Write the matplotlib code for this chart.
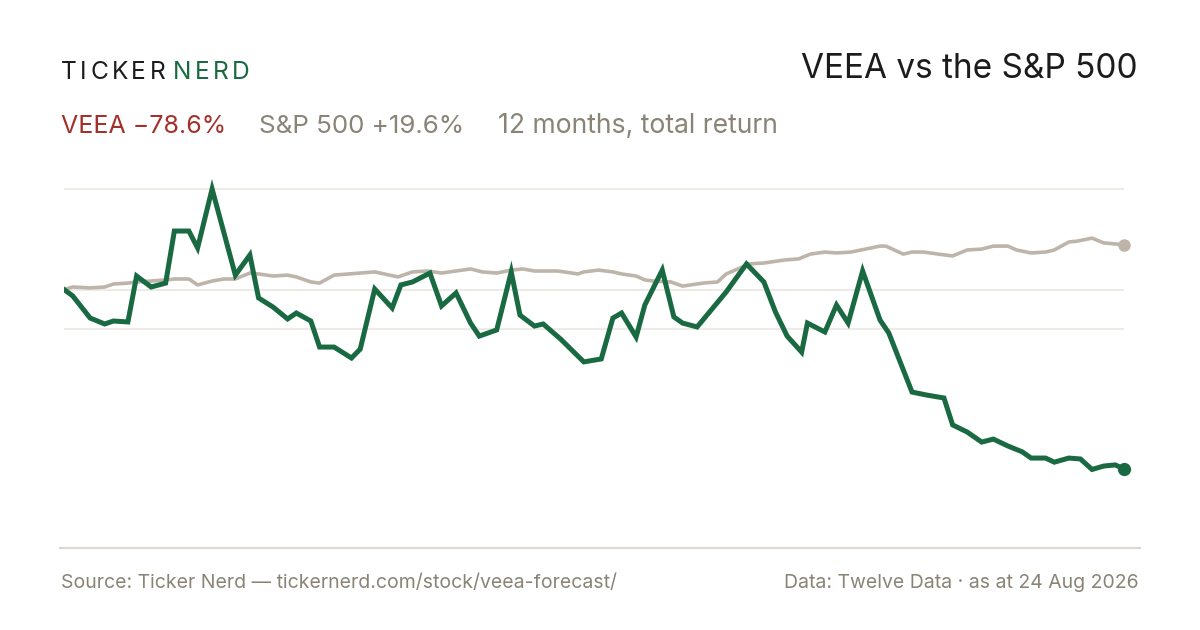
import matplotlib
matplotlib.use("Agg")
import matplotlib.pyplot as plt
import numpy as np

plt.rcParams['font.family'] = ['Inter', 'DejaVu Sans']

# VEEA, % total return, day offset within the 12 months
veea_days = [0, 3, 9, 14, 17, 22, 25, 30, 35, 38, 43, 46, 51, 59, 64, 67, 72, 77, 80,
             85, 88, 93, 99, 102, 107, 113, 116, 120, 126, 130, 135, 140, 143, 149,
             154, 157, 162, 165, 171, 179, 185, 189, 192, 197, 200, 206, 210, 213,
             218, 228, 235, 241, 245, 249, 254, 256, 262, 266, 270, 275, 281, 284,
             292, 297, 303, 306, 311, 316, 320, 325, 330, 333, 338, 341, 346, 350,
             354, 358, 362, 365]
veea_ret = [0.0, -2.8, -12.5, -15.1, -13.8, -14.2, 5.9, 1.1, 2.8, 25.6, 25.6, 18.2,
            44.0, 6.3, 15.1, -3.7, -7.7, -12.9, -10.3, -13.8, -25.2, -25.2, -30.0,
            -26.1, 0.2, -8.1, 2.0, 3.3, 7.2, -7.2, -1.5, -14.7, -20.4, -17.7, 7.7,
            -11.2, -16.0, -15.1, -21.7, -31.7, -30.4, -12.5, -10.3, -20.8, -6.8, 8.5,
            -12.0, -14.7, -16.4, -1.1, 11.2, 3.3, -9.9, -20.4, -27.4, -14.7, -18.6,
            -6.8, -14.7, 8.1, -13.4, -19.0, -44.9, -46.2, -47.5, -59.3, -62.4, -66.8,
            -65.5, -68.5, -71.1, -73.8, -73.8, -75.6, -73.8, -74.2, -78.8, -77.3,
            -76.8, -78.6]

# S&P 500, % total return
spx_days = [0, 3, 9, 14, 17, 22, 25, 30, 35, 38, 43, 46, 51, 55, 59, 64, 67, 72, 77,
            80, 85, 88, 93, 98, 102, 107, 115, 120, 125, 130, 135, 140, 144, 149, 154,
            158, 162, 170, 177, 179, 184, 189, 192, 197, 200, 203, 209, 213, 220, 225,
            228, 232, 236, 241, 248, 253, 257, 262, 266, 271, 276, 281, 283, 289, 292,
            296, 301, 306, 311, 316, 320, 325, 328, 333, 338, 341, 346, 349, 354, 358,
            365]
spx_ret = [0.0, 1.1, 0.7, 1.1, 2.4, 2.8, 3.3, 3.7, 4.2, 4.6, 4.6, 2.0, 3.7, 4.6, 4.6,
           7.2, 6.8, 5.9, 6.3, 5.5, 3.3, 2.8, 6.3, 6.8, 7.2, 7.7, 5.5, 7.7, 8.1, 7.2,
           8.1, 9.0, 7.7, 7.2, 8.5, 9.0, 8.1, 8.1, 6.8, 7.7, 8.5, 7.7, 6.8, 5.9, 4.2,
           3.7, 3.3, 1.5, 2.8, 3.3, 6.8, 9.0, 11.2, 11.6, 12.9, 13.4, 15.5, 16.4, 16.0,
           16.4, 17.7, 19.0, 19.0, 15.5, 16.4, 16.4, 15.5, 14.7, 17.3, 17.7, 19.0,
           19.0, 17.3, 16.0, 16.4, 17.3, 20.8, 21.2, 22.5, 20.4, 19.6]

veea_total = "VEEA \u221278.6%"
spx_total = "S&P 500 +19.6%"

GREEN = "#196a42"
SPX = "#bdb5aa"
RED = "#a3302a"
GREY = "#8a8477"
GRID = "#e9e6df"

W, H = 1200, 630
fig = plt.figure(figsize=(12, 6.3), dpi=100)
fig.patch.set_facecolor("white")

# axes spans x 64..1124 px, y 170..490 px
ax = fig.add_axes([64 / W, 1 - 490 / H, 1060 / W, 320 / H])
ax.set_xlim(0, 365)
k = 2.284
zero_px = 289.5
ax.set_ylim((zero_px - 490) / k, (zero_px - 170) / k)
ax.axis("off")

vmax = max(veea_ret)
for g in [vmax, 0, (vmax + veea_ret[-1]) / 2]:
    ax.axhline(g, color=GRID, lw=1.1, zorder=1)

ax.plot(spx_days, spx_ret, color=SPX, lw=2.6, solid_joinstyle="round", zorder=2)
ax.plot(veea_days, veea_ret, color=GREEN, lw=3.6, solid_joinstyle="miter", zorder=3)
ax.plot(spx_days[-1], spx_ret[-1], "o", color=SPX, ms=8, clip_on=False, zorder=4)
ax.plot(veea_days[-1], veea_ret[-1], "o", color=GREEN, ms=8.5, clip_on=False, zorder=4)


def px(x, y):
    return x / W, 1 - y / H


# brand, tracked letters
renderer = fig.canvas.get_renderer()
x0 = 61
for i, ch in enumerate("TICKER NERD"):
    col = "#1c1c1c" if i < 6 else GREEN
    if ch == " ":
        x0 += 4
        continue
    t = fig.text(*px(x0, 79), ch, fontsize=17.7, color=col, ha="left",
                 va="baseline")
    bb = t.get_window_extent(renderer)
    x0 += bb.width + 3.4

fig.text(*px(1138, 78), "VEEA vs the S&P 500", fontsize=24, color="#1c1c1c",
         ha="right", va="baseline")

fig.text(*px(61, 133), veea_total, fontsize=18.0, color=RED, ha="left", va="baseline")
fig.text(*px(259, 133), spx_total, fontsize=18.7, color=GREY, ha="left", va="baseline")
fig.text(*px(498, 133), "12 months, total return", fontsize=19.1, color=GREY,
         ha="left", va="baseline")

fig.add_artist(plt.Line2D([60 / W, 1140 / W], [1 - 548 / H, 1 - 548 / H],
                          color="#dcd8cf", lw=1.6))

fig.text(*px(61, 588), "Source: Ticker Nerd \u2014 tickernerd.com/stock/veea-forecast/",
         fontsize=14.0, color=GREY, ha="left", va="baseline")
fig.text(*px(1139, 588), "Data: Twelve Data \u00b7 as at 24 Aug 2026",
         fontsize=14.0, color=GREY, ha="right", va="baseline")

fig.savefig("out.png", dpi=100, facecolor="white")
